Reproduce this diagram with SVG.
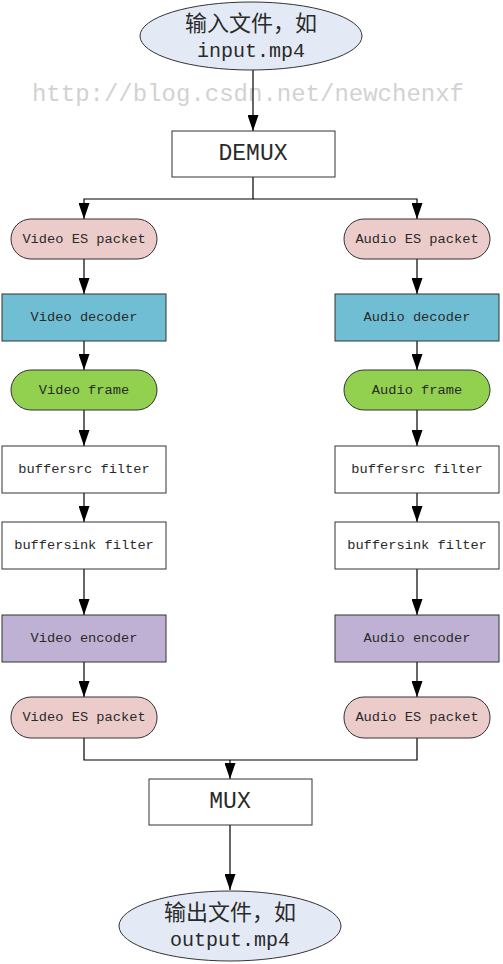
<svg xmlns="http://www.w3.org/2000/svg" width="503" height="964" viewBox="0 0 503 964">
<style>
.n{stroke:#333;stroke-width:1}
.t{font-family:"Liberation Mono","Noto Sans CJK SC",monospace;fill:#2a2a2a;font-size:13.7px;text-anchor:middle;dominant-baseline:central}
.big{font-size:23px}
.cn{font-family:"Noto Sans CJK SC","Liberation Mono",sans-serif;font-size:22px}
.c{stroke:#000;stroke-width:1.2;fill:none}
.pk{fill:#ecccca}
.dec{fill:#70bed3}
.fr{fill:#92d050}
.wh{fill:#fff}
.enc{fill:#bfb1d4}
.el{fill:#e4eaf5}
</style>
<defs>
<marker id="a" markerUnits="userSpaceOnUse" markerWidth="16" markerHeight="11" refX="16" refY="5.5" orient="auto" viewBox="0 0 16 11">
<path d="M0,0 L16,5.5 L0,11 z" fill="#000"/>
</marker>
</defs>
<rect width="503" height="964" fill="#fff"/>
<text x="248" y="94" class="t" style="font-size:24px;fill:#d2d2d2">http://blog.csdn.net/newchenxf</text>
<g id="connectors">
<line class="c" x1="253" y1="70" x2="253" y2="131" marker-end="url(#a)"/>
<polyline class="c" points="253,177 253,199 84,199 84,219" marker-end="url(#a)"/>
<polyline class="c" points="253,199 417,199 417,219" marker-end="url(#a)"/>
<line class="c" x1="84" y1="259" x2="84" y2="294" marker-end="url(#a)"/>
<line class="c" x1="417" y1="259" x2="417" y2="294" marker-end="url(#a)"/>
<line class="c" x1="84" y1="341" x2="84" y2="370" marker-end="url(#a)"/>
<line class="c" x1="417" y1="341" x2="417" y2="370" marker-end="url(#a)"/>
<line class="c" x1="84" y1="410" x2="84" y2="446" marker-end="url(#a)"/>
<line class="c" x1="417" y1="410" x2="417" y2="446" marker-end="url(#a)"/>
<line class="c" x1="84" y1="493" x2="84" y2="522" marker-end="url(#a)"/>
<line class="c" x1="417" y1="493" x2="417" y2="522" marker-end="url(#a)"/>
<line class="c" x1="84" y1="569" x2="84" y2="615" marker-end="url(#a)"/>
<line class="c" x1="417" y1="569" x2="417" y2="615" marker-end="url(#a)"/>
<line class="c" x1="84" y1="662" x2="84" y2="697" marker-end="url(#a)"/>
<line class="c" x1="417" y1="662" x2="417" y2="697" marker-end="url(#a)"/>
<polyline class="c" points="84,738 84,760 417,760 417,738"/>
<line class="c" x1="230" y1="760" x2="230" y2="779" marker-end="url(#a)"/>
<line class="c" x1="230" y1="825" x2="230" y2="890" marker-end="url(#a)"/>
</g>
<g id="input"><ellipse class="n el" cx="251" cy="36" rx="111" ry="34"/><text class="t cn" x="251" y="21">输入文件，如</text><text class="t" style="font-size:20px" x="251" y="51">input.mp4</text></g>
<g id="demux"><rect class="n wh" x="172" y="131" width="163" height="46"/><text class="t big" x="253" y="154">DEMUX</text></g>
<g id="v-es-in"><rect class="n pk" x="11" y="219" width="146" height="40" rx="20"/><text class="t" x="84" y="239">Video ES packet</text></g>
<g id="a-es-in"><rect class="n pk" x="344" y="219" width="146" height="40" rx="20"/><text class="t" x="417" y="239">Audio ES packet</text></g>
<g id="v-dec"><rect class="n dec" x="2" y="294" width="164" height="47"/><text class="t" x="84" y="317">Video decoder</text></g>
<g id="a-dec"><rect class="n dec" x="335" y="294" width="164" height="47"/><text class="t" x="417" y="317">Audio decoder</text></g>
<g id="v-frame"><rect class="n fr" x="11" y="370" width="146" height="40" rx="20"/><text class="t" x="84" y="390">Video frame</text></g>
<g id="a-frame"><rect class="n fr" x="344" y="370" width="146" height="40" rx="20"/><text class="t" x="417" y="390">Audio frame</text></g>
<g id="v-src"><rect class="n wh" x="2" y="446" width="164" height="47"/><text class="t" x="84" y="469">buffersrc filter</text></g>
<g id="a-src"><rect class="n wh" x="335" y="446" width="164" height="47"/><text class="t" x="417" y="469">buffersrc filter</text></g>
<g id="v-sink"><rect class="n wh" x="2" y="522" width="164" height="47"/><text class="t" x="84" y="545">buffersink filter</text></g>
<g id="a-sink"><rect class="n wh" x="335" y="522" width="164" height="47"/><text class="t" x="417" y="545">buffersink filter</text></g>
<g id="v-enc"><rect class="n enc" x="2" y="615" width="164" height="47"/><text class="t" x="84" y="638">Video encoder</text></g>
<g id="a-enc"><rect class="n enc" x="335" y="615" width="164" height="47"/><text class="t" x="417" y="638">Audio encoder</text></g>
<g id="v-es-out"><rect class="n pk" x="11" y="697" width="146" height="41" rx="20"/><text class="t" x="84" y="717">Video ES packet</text></g>
<g id="a-es-out"><rect class="n pk" x="344" y="697" width="146" height="41" rx="20"/><text class="t" x="417" y="717">Audio ES packet</text></g>
<g id="mux"><rect class="n wh" x="149" y="779" width="163" height="46"/><text class="t big" x="230" y="802">MUX</text></g>
<g id="output"><ellipse class="n el" cx="230" cy="926" rx="111" ry="35"/><text class="t cn" x="230" y="910">输出文件，如</text><text class="t" style="font-size:20px" x="230" y="940">output.mp4</text></g>
</svg>
